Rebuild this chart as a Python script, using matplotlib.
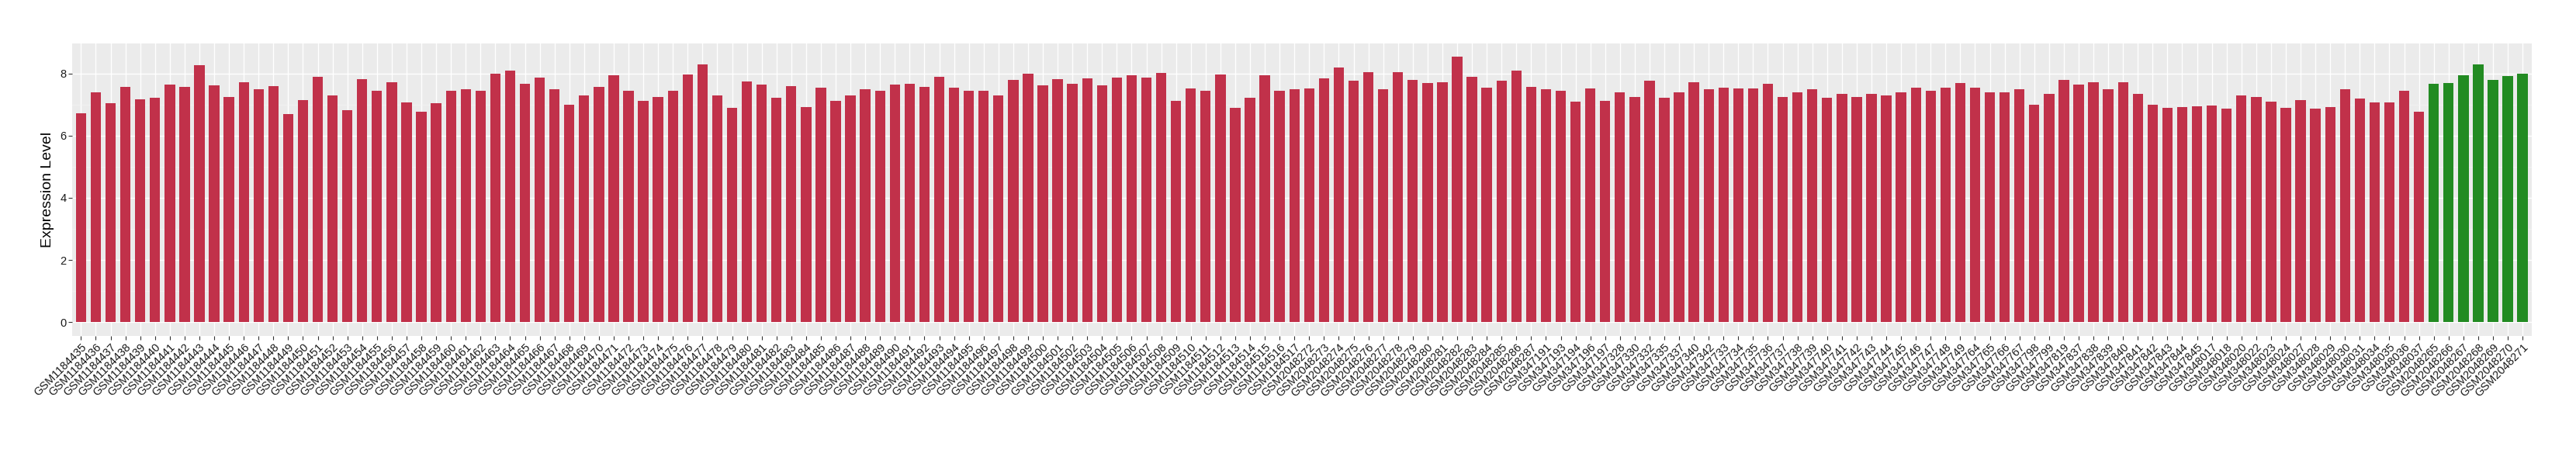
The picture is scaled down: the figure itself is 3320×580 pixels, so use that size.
import matplotlib
matplotlib.use("Agg")
import matplotlib.pyplot as plt
import matplotlib.transforms as mtransforms
import numpy as np

plt.rcParams['font.family'] = ['Liberation Sans', 'DejaVu Sans']

# sample ids, group by group
ids_a = ["GSM%d" % n for n in range(1184435, 1184518)]
ids_b = ["GSM%d" % n for n in range(2048272, 2048288)]
ids_c = ["GSM%d" % n for n in [
    347191, 347193, 347194, 347196, 347197, 347328, 347330, 347332, 347335,
    347337, 347340, 347342, 347733, 347734, 347735, 347736, 347737, 347738,
    347739, 347740, 347741, 347742, 347743, 347744, 347745, 347746, 347747,
    347748, 347749, 347764, 347765, 347766, 347767, 347798, 347799, 347819,
    347837, 347838, 347839, 347840, 347841, 347842, 347843, 347844, 347845,
    348017, 348018, 348020, 348022, 348023, 348024, 348027, 348028, 348029,
    348030, 348031, 348034, 348035, 348036, 348037]]
ids_green = ["GSM%d" % n for n in range(2048265, 2048272)]

vals_a = [6.71, 7.40, 7.04, 7.57, 7.16, 7.21, 7.64, 7.57, 8.27, 7.62,
          7.23, 7.72, 7.48, 7.59, 6.68, 7.14, 7.88, 7.28, 6.82, 7.81,
          7.43, 7.72, 7.06, 6.77, 7.04, 7.45, 7.49, 7.43, 7.98, 8.10,
          7.67, 7.86, 7.48, 6.99, 7.28, 7.57, 7.93, 7.45, 7.11, 7.25,
          7.45, 7.96, 8.29, 7.30, 6.90, 7.73, 7.64, 7.21, 7.59, 6.92,
          7.54, 7.11, 7.30, 7.49, 7.43, 7.64, 7.67, 7.57, 7.88, 7.54,
          7.43, 7.43, 7.30, 7.78, 7.98, 7.62, 7.81, 7.67, 7.83, 7.62,
          7.86, 7.93, 7.86, 8.02, 7.11, 7.52, 7.43, 7.96, 6.90, 7.21,
          7.93, 7.43, 7.48]
vals_b = [7.52, 7.83, 8.20, 7.76, 8.05, 7.48, 8.05, 7.78, 7.69, 7.72,
          8.53, 7.88, 7.54, 7.76, 8.10, 7.57]
vals_c = [7.48, 7.43, 7.09, 7.52, 7.11, 7.38, 7.25, 7.76, 7.21, 7.38,
          7.72, 7.49, 7.54, 7.52, 7.52, 7.67, 7.23, 7.40, 7.49, 7.21,
          7.33, 7.23, 7.33, 7.28, 7.40, 7.54, 7.43, 7.54, 7.69, 7.54,
          7.38, 7.40, 7.48, 6.99, 7.35, 7.78, 7.64, 7.72, 7.49, 7.72,
          7.35, 6.99, 6.90, 6.92, 6.95, 6.97, 6.87, 7.30, 7.25, 7.09,
          6.90, 7.14, 6.87, 6.92, 7.49, 7.19, 7.06, 7.06, 7.43, 6.77]
vals_green = [7.67, 7.69, 7.93, 8.29, 7.78, 7.91, 7.98]

red = "#C1314A"
green = "#228B22"

labels = ids_a + ids_b + ids_c + ids_green
values = vals_a + vals_b + vals_c + vals_green
colors = [red] * (len(ids_a) + len(ids_b) + len(ids_c)) + [green] * len(ids_green)
x = np.arange(len(labels))

fig = plt.figure(figsize=(33.2, 5.8), dpi=100)
ax = fig.add_axes([0.028, 0.254, 0.9547, 0.6494])
ax.set_facecolor("#EBEBEB")

ax.bar(x, values, width=0.7, color=colors, zorder=2)

ax.set_xlim(-0.6, len(labels) - 0.4)
ax.set_ylim(-0.43, 8.96)
ax.set_yticks([0, 2, 4, 6, 8])
ax.set_yticks([1, 3, 5, 7], minor=True)
ax.set_xticks(x)
ax.set_xticklabels(labels, rotation=45, ha="right", va="top",
                   rotation_mode="anchor", fontsize=10.5, color="#1A1A1A")
# nudge the rotated labels a little to the right, like ggplot's hjust=1
shift = mtransforms.ScaledTranslation(0.05, 0, fig.dpi_scale_trans)
for lab in ax.get_xticklabels():
    lab.set_transform(lab.get_transform() + shift)
ax.tick_params(axis="y", labelsize=10.5, labelcolor="#1A1A1A")
ax.tick_params(which="major", length=3.5, width=0.8, color="#333333", pad=2)
ax.tick_params(which="minor", length=0)

ax.grid(which="major", color="white", linewidth=1.0, zorder=1)
ax.grid(which="minor", axis="y", color="#F5F5F5", linewidth=0.5, zorder=1)
ax.set_axisbelow(True)
for s in ax.spines.values():
    s.set_visible(False)

ax.set_ylabel("Expression Level", fontsize=14, labelpad=5)

fig.savefig("out.png", dpi=100)
